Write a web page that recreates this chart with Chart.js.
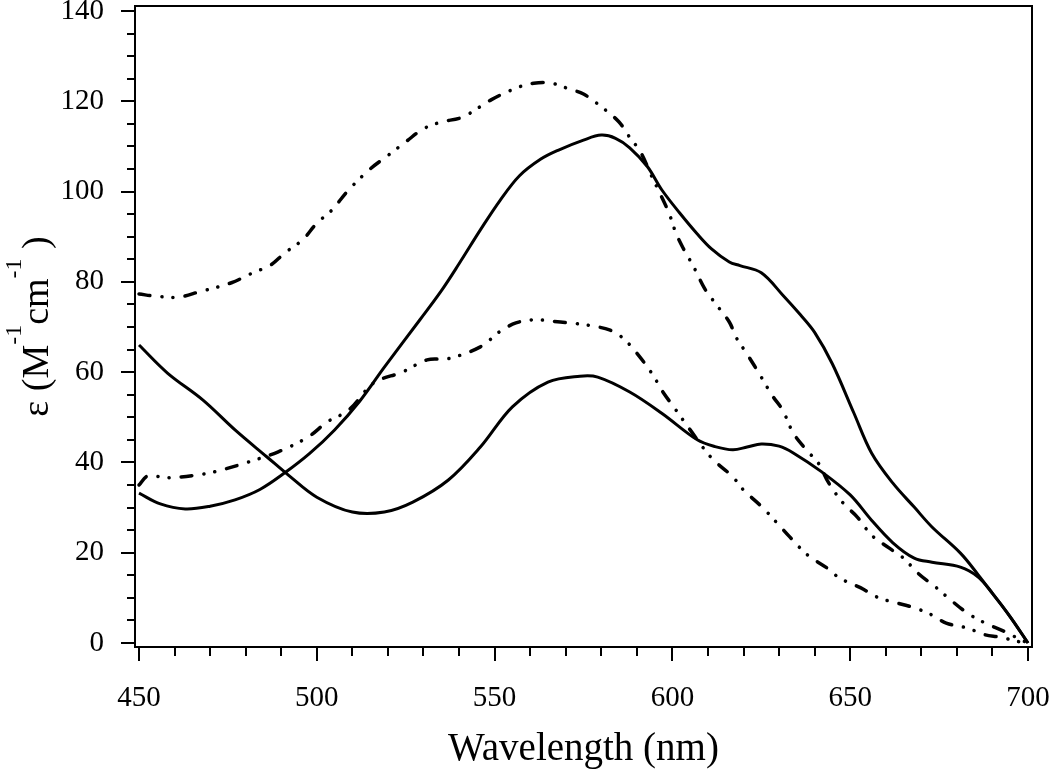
<!DOCTYPE html>
<html>
<head>
<meta charset="utf-8">
<script src="https://cdn.jsdelivr.net/npm/chart.js@4/dist/chart.umd.min.js"></script>
<style>
  html, body { margin: 0; padding: 0; background: #fff; }
  #chart { display: block; }
</style>
</head>
<body>
<canvas id="chart" width="1050" height="769"></canvas>
<script>
// solid curve, peak ~112 near 580 nm
const waveA = [450, 456, 463, 470, 477, 484, 491, 498, 505, 512, 519, 529, 535, 540, 546, 551.5, 557, 563, 568, 575, 580, 584, 588, 593, 597, 602, 607, 611, 616, 619, 625, 631, 636, 640, 645, 651, 656, 662, 668, 673, 681, 686, 690, 695, 700];
const epsA = [33.2, 30.8, 29.7, 30.3, 31.7, 34, 37.7, 42, 47.2, 53.5, 61.1, 71.6, 78, 84, 91.5, 98, 103.5, 107.2, 109.2, 111.4, 112.5, 111.8, 109.7, 105.5, 100.4, 95.3, 90.6, 87.3, 84.4, 83.6, 82, 77.1, 72.7, 68.8, 61.8, 51, 42.1, 35.4, 30.1, 25.7, 19.9, 15.1, 11, 5.8, 0];

// solid curve, starts at 66, peak ~59 near 575 nm
const waveB = [450, 458, 468, 477, 486, 492, 500, 510, 519, 527, 537, 546, 555, 565, 574, 579, 588, 597, 607, 612, 617, 621, 625, 630, 634, 642, 650, 656, 662, 668, 673, 681, 686, 690, 695, 700];
const epsB = [66, 59.8, 53.8, 47.2, 41.2, 37.2, 32.3, 29, 29, 31.2, 36.1, 43.4, 52.3, 57.8, 59.1, 58.9, 55.6, 50.9, 45, 43.5, 42.8, 43.4, 44.1, 43.6, 42.1, 37.9, 32.8, 27.2, 22.2, 18.8, 17.9, 16.8, 14.6, 11, 5.8, 0];

// dash-dot curve, peak ~124 near 563 nm
const waveC = [450, 455, 461, 467, 476, 482, 487, 491, 496, 500, 504, 509, 515, 520, 525, 530, 535, 541, 549, 556, 561, 566, 571, 575, 580, 585, 588, 591, 594, 596, 599, 601, 603, 606, 609, 612, 616, 618, 621, 625, 628, 631, 634, 638, 641, 644, 648, 652, 656, 661, 665, 669, 674, 678, 683, 688, 693, 698, 700];
const epsC = [77.3, 76.8, 76.6, 77.8, 79.8, 82, 83.7, 86.4, 89.3, 93, 95.7, 100.4, 105, 108, 111, 113.9, 115.4, 116.5, 120.3, 122.9, 124, 124, 122.7, 121.6, 118.8, 115.4, 112, 108.8, 103.7, 100.4, 95.3, 90.8, 87.5, 83.3, 78.6, 75.3, 71.1, 67.6, 64, 58.9, 54.9, 51.6, 46.5, 42.5, 39.9, 35.4, 31, 27.9, 23.9, 21, 18.8, 15.5, 12.4, 9.7, 6.6, 4.4, 2.7, 0.7, 0];

// dash-dot curve, peak ~72 near 562 nm
const waveD = [450, 452.5, 458, 468, 474, 480, 489, 497.5, 503, 509, 516, 524, 531, 537, 546, 551.5, 556, 561, 566, 571, 577, 582.5, 586, 590, 594.5, 597, 601, 605, 611, 617, 620, 625.5, 630, 633, 638, 643.5, 647, 653, 658, 662, 668, 673, 677, 683, 688, 692, 698, 700];
const epsD = [35, 37, 36.6, 37.4, 38.5, 39.9, 42.3, 45.6, 49, 51.6, 57.6, 60, 62.7, 63, 65.6, 69, 70.9, 71.6, 71.3, 70.9, 70.3, 69.3, 67.6, 64.2, 59.4, 56, 51.6, 47.2, 41, 36.8, 33.9, 29.9, 26.1, 23.5, 19.5, 16.6, 14.4, 12.2, 10, 9.1, 7.8, 6.2, 4.4, 3.3, 1.8, 1.3, 0.2, 0];

const xTickLabels = [450, 500, 550, 600, 650, 700];
const yTickLabels = [0, 20, 40, 60, 80, 100, 120, 140];
const xMinorStep = 10;
const yMinorStep = 5;

const serif = "'Liberation Serif', 'Times New Roman', serif";

function pairs(xs, ys) {
    return xs.map((x, i) => ({ x: x, y: ys[i] }));
}

const dashDot = [11, 12, 0.1, 11, 0.1, 12];

// frame plus outward tick marks (major and minor)
const framePlugin = {
    id: "frame",
    afterDraw(chart) {
        const ctx = chart.ctx;
        const area = chart.chartArea;
        ctx.save();
        ctx.strokeStyle = "#000";
        ctx.lineWidth = 2;
        ctx.strokeRect(area.left, area.top, area.right - area.left, area.bottom - area.top);

        const xs = chart.scales.x;
        xs.ticks.forEach(t => {
            const px = Math.round(xs.getPixelForValue(t.value));
            const len = xTickLabels.includes(t.value) ? 14 : 9;
            ctx.beginPath();
            ctx.moveTo(px, area.bottom);
            ctx.lineTo(px, area.bottom + len);
            ctx.stroke();
        });
        const ys = chart.scales.y;
        ys.ticks.forEach(t => {
            const py = Math.round(ys.getPixelForValue(t.value));
            const len = yTickLabels.includes(t.value) ? 14 : 8;
            ctx.beginPath();
            ctx.moveTo(area.left, py);
            ctx.lineTo(area.left - len, py);
            ctx.stroke();
        });
        ctx.restore();
    }
};

// y title with raised "-1" superscripts
const yTitlePlugin = {
    id: "ytitle",
    afterDraw(chart) {
        const ctx = chart.ctx;
        const area = chart.chartArea;
        const parts = [
            { t: "\u03b5 (M", size: 38, rise: 0 },
            { t: "-1", size: 24, rise: 27 },
            { t: "cm", size: 38, rise: 0 },
            { t: "-1", size: 24, rise: 27 },
            { t: " )", size: 38, rise: 0 }
        ];
        ctx.save();
        ctx.fillStyle = "#000";
        ctx.textBaseline = "alphabetic";
        ctx.textAlign = "left";
        let total = 0;
        parts.forEach(p => {
            ctx.font = p.size + "px " + serif;
            p.w = ctx.measureText(p.t).width;
            total += p.w;
        });
        ctx.translate(48, (area.top + area.bottom) / 2);
        ctx.rotate(-Math.PI / 2);
        let x = -total / 2;
        parts.forEach(p => {
            ctx.font = p.size + "px " + serif;
            ctx.fillText(p.t, x, -p.rise);
            x += p.w;
        });
        ctx.restore();
    }
};

new Chart(document.getElementById("chart"), {
    type: "line",
    data: {
        datasets: [
            { label: "A", data: pairs(waveA, epsA), borderColor: "#000", borderWidth: 3 },
            { label: "B", data: pairs(waveB, epsB), borderColor: "#000", borderWidth: 3 },
            { label: "C", data: pairs(waveC, epsC), borderColor: "#000", borderWidth: 3.5, borderDash: dashDot, borderCapStyle: "round" },
            { label: "D", data: pairs(waveD, epsD), borderColor: "#000", borderWidth: 3.5, borderDash: dashDot, borderCapStyle: "round" }
        ]
    },
    options: {
        responsive: false,
        animation: false,
        devicePixelRatio: 1,
        layout: { padding: { top: 6, right: 18, left: 0, bottom: 0 } },
        elements: {
            point: { radius: 0 },
            line: { tension: 0.35, fill: false }
        },
        plugins: {
            legend: { display: false },
            tooltip: { enabled: false }
        },
        scales: {
            x: {
                type: "linear",
                min: 448.875,
                max: 701.125,
                grid: { display: false },
                border: { display: false },
                afterFit(scale) {
                    scale.height = 122;
                    scale.paddingLeft = 0;
                    scale.paddingRight = 0;
                },
                ticks: {
                    stepSize: xMinorStep,
                    includeBounds: false,
                    autoSkip: false,
                    maxRotation: 0,
                    padding: 26,
                    color: "#000",
                    font: { family: serif, size: 29 },
                    callback: v => xTickLabels.includes(v) ? String(v) : ""
                },
                title: {
                    display: true,
                    text: "Wavelength (nm)",
                    color: "#000",
                    font: { family: serif, size: 39, lineHeight: 1 },
                    padding: { top: 0, bottom: 0 }
                }
            },
            y: {
                min: -0.886,
                max: 141.1,
                grid: { display: false },
                border: { display: false },
                afterFit(scale) {
                    scale.width = 135;
                    scale.paddingTop = 0;
                    scale.paddingBottom = 0;
                },
                ticks: {
                    stepSize: yMinorStep,
                    includeBounds: false,
                    autoSkip: false,
                    padding: 23,
                    color: "#000",
                    font: { family: serif, size: 29 },
                    callback: v => yTickLabels.includes(v) ? String(v) : ""
                }
            }
        }
    },
    plugins: [framePlugin, yTitlePlugin]
});
</script>
</body>
</html>
